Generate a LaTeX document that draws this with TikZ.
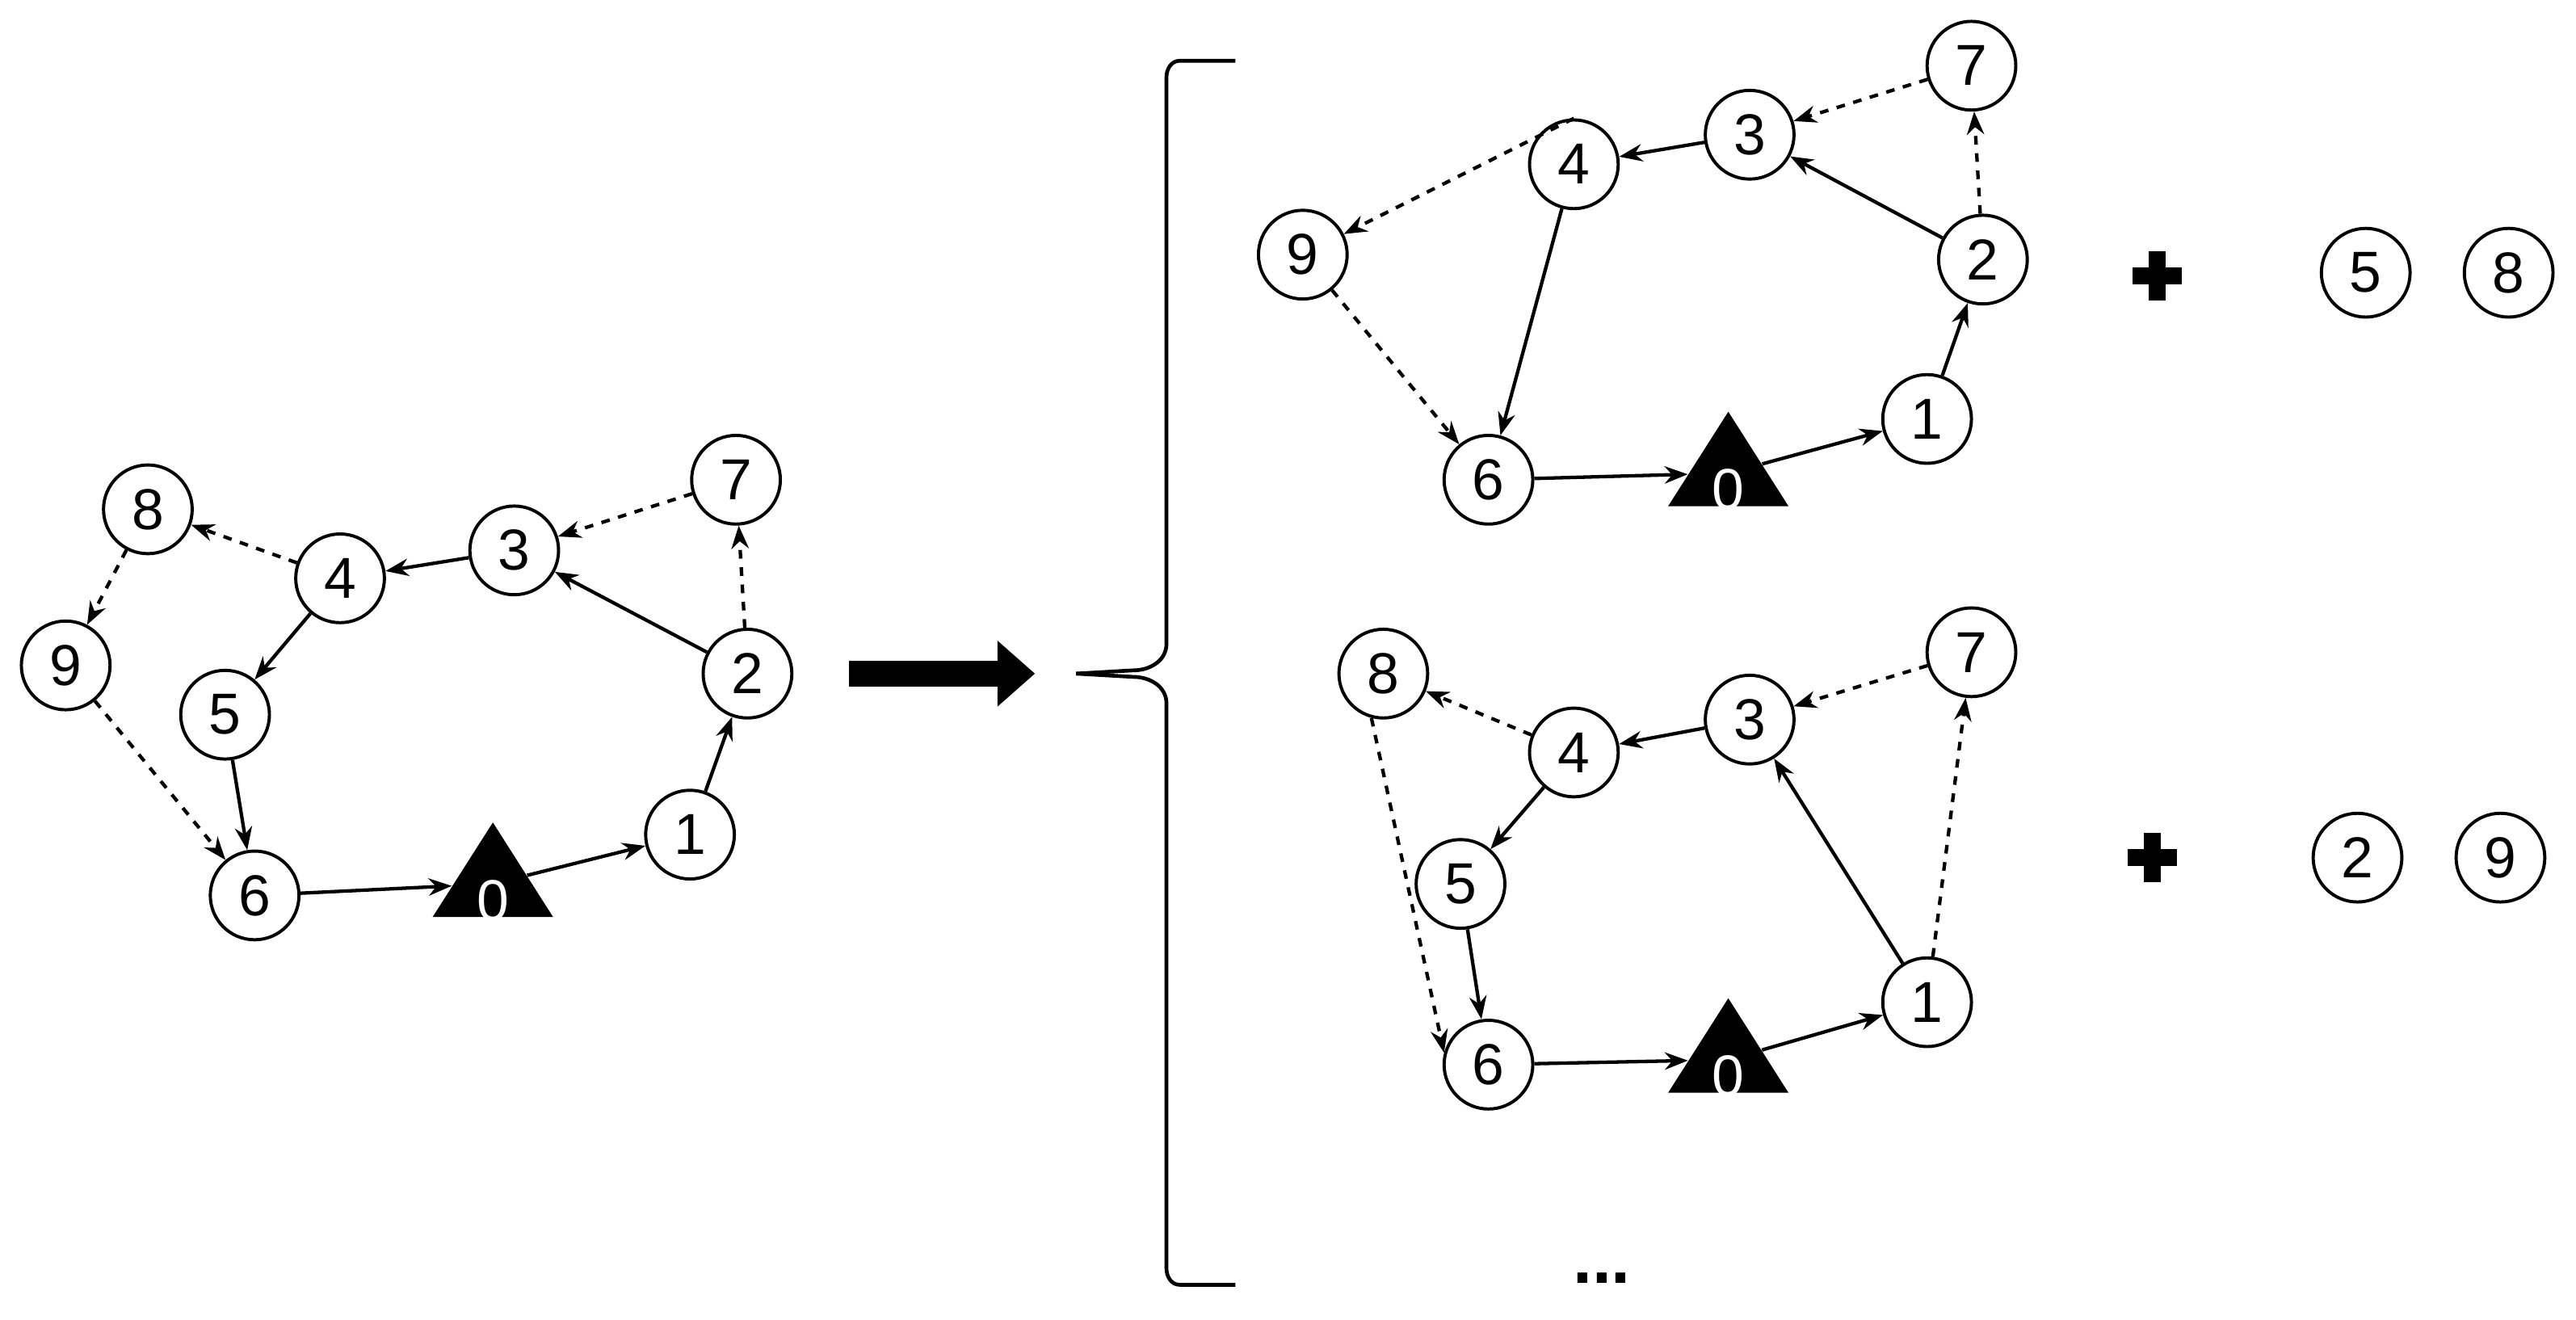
\documentclass[tikz,border=0pt]{standalone}
\usepackage{fontspec}
\setmainfont{Liberation Sans}
\usetikzlibrary{shapes.geometric,arrows.meta}
\begin{document}
\begin{tikzpicture}[x=0.02cm,y=-0.02cm,
  v/.style={circle,draw,line width=1.1pt,minimum size=1.08cm,inner sep=0pt,font=\fontsize{20}{22}\selectfont},
  d/.style={isosceles triangle,isosceles triangle apex angle=65,shape border rotate=90,fill=black,minimum height=1.15cm,minimum width=1.45cm,inner sep=0pt,text=white,font=\fontsize{20}{22}\selectfont},
  e/.style={line width=1.2pt,-{Stealth[length=8pt,width=6pt]}},
  de/.style={e,dashed},
  pl/.style={line width=6pt}]
\useasboundingbox (0,0) rectangle (1568,803);
% left
\node[v] (L8) at (90,310) {8};
\node[v] (L9) at (40,405) {9};
\node[v] (L4) at (207,352) {4};
\node[v] (L3) at (313,335) {3};
\node[v] (L7) at (448,292) {7};
\node[v] (L5) at (137,435) {5};
\node[v] (L2) at (455,410) {2};
\node[v] (L6) at (155,545) {6};
\node[d] (L0) at (300,538) {};
\node[text=white,font=\fontsize{20}{22}\selectfont] (L0t) at (300,548) {0};
\node[v] (L1) at (420,508) {1};
\draw[e] (L0) -- (L1); \draw[e] (L1) -- (L2); \draw[e] (L2) -- (L3);
\draw[e] (L3) -- (L4); \draw[e] (L4) -- (L5); \draw[e] (L5) -- (L6); \draw[e] (L6) -- (L0);
\draw[de] (L2) -- (L7); \draw[de] (L7) -- (L3); \draw[de] (L4) -- (L8);
\draw[de] (L8) -- (L9); \draw[de] (L9) -- (L6);
% big arrow
\coordinate (AS) at (517,410); \coordinate (AE) at (630,410);
\draw[line width=9pt,-{Triangle[length=13pt,width=22pt]}] (AS) -- (AE);
% brace
\coordinate (BrT) at (752,37); \coordinate (BrB) at (752,782); \coordinate (BrM) at (655,410);
\draw[line width=1.3pt] (BrT) -- (718,37) to[out=180,in=90] (710,47) -- (710,392)
  to[out=-90,in=0] (690,408) -- (BrM);
\draw[line width=1.3pt] (BrB) -- (718,782) to[out=180,in=-90] (710,772) -- (710,428)
  to[out=90,in=0] (690,412) -- (BrM);
% top
\node[v] (T7) at (1200,40) {7};
\node[v] (T3) at (1065,82) {3};
\node[v] (T4) at (958,100) {4};
\node[v] (T9) at (793,155) {9};
\node[v] (T2) at (1207,158) {2};
\node[v] (T1) at (1173,255) {1};
\node[v] (T6) at (906,292) {6};
\node[d] (T0) at (1052,288) {};
\node[text=white,font=\fontsize{20}{22}\selectfont] (T0t) at (1052,298) {0};
\draw[e] (T0) -- (T1); \draw[e] (T1) -- (T2); \draw[e] (T2) -- (T3);
\draw[e] (T3) -- (T4); \draw[e] (T4) -- (T6); \draw[e] (T6) -- (T0);
\draw[de] (T2) -- (T7); \draw[de] (T7) -- (T3); \draw[de] (T4.north) -- (T9); \draw[de] (T9) -- (T6);
\coordinate (TPa) at (1298,168); \coordinate (TPb) at (1328,168);
\coordinate (TPc) at (1313,153); \coordinate (TPd) at (1313,183);
\draw[pl] (TPa) -- (TPb); \draw[pl] (TPc) -- (TPd);
\node[v] (T5) at (1440,166) {5};
\node[v] (T8) at (1527,166) {8};
% bottom
\node[v] (B7) at (1200,397) {7};
\node[v] (B8) at (842,410) {8};
\node[v] (B3) at (1065,438) {3};
\node[v] (B4) at (958,458) {4};
\node[v] (B5) at (889,538) {5};
\node[v] (B1) at (1173,610) {1};
\node[v] (B6) at (906,648) {6};
\node[d] (B0) at (1052,645) {};
\node[text=white,font=\fontsize{20}{22}\selectfont] (B0t) at (1052,655) {0};
\draw[e] (B0) -- (B1); \draw[e] (B1) -- (B3); \draw[e] (B3) -- (B4);
\draw[e] (B4) -- (B5); \draw[e] (B5) -- (B6); \draw[e] (B6) -- (B0);
\draw[de] (B1) -- (B7); \draw[de] (B7) -- (B3); \draw[de] (B4) -- (B8); \draw[de] (B8.255) -- (B6.165);
\coordinate (BPa) at (1295,522); \coordinate (BPb) at (1325,522);
\coordinate (BPc) at (1310,507); \coordinate (BPd) at (1310,537);
\draw[pl] (BPa) -- (BPb); \draw[pl] (BPc) -- (BPd);
\node[v] (B2) at (1435,522) {2};
\node[v] (B9) at (1522,522) {9};
\node[font=\fontsize{24}{24}\selectfont\bfseries] (dots) at (975,778) {...};
\end{tikzpicture}
\end{document}
